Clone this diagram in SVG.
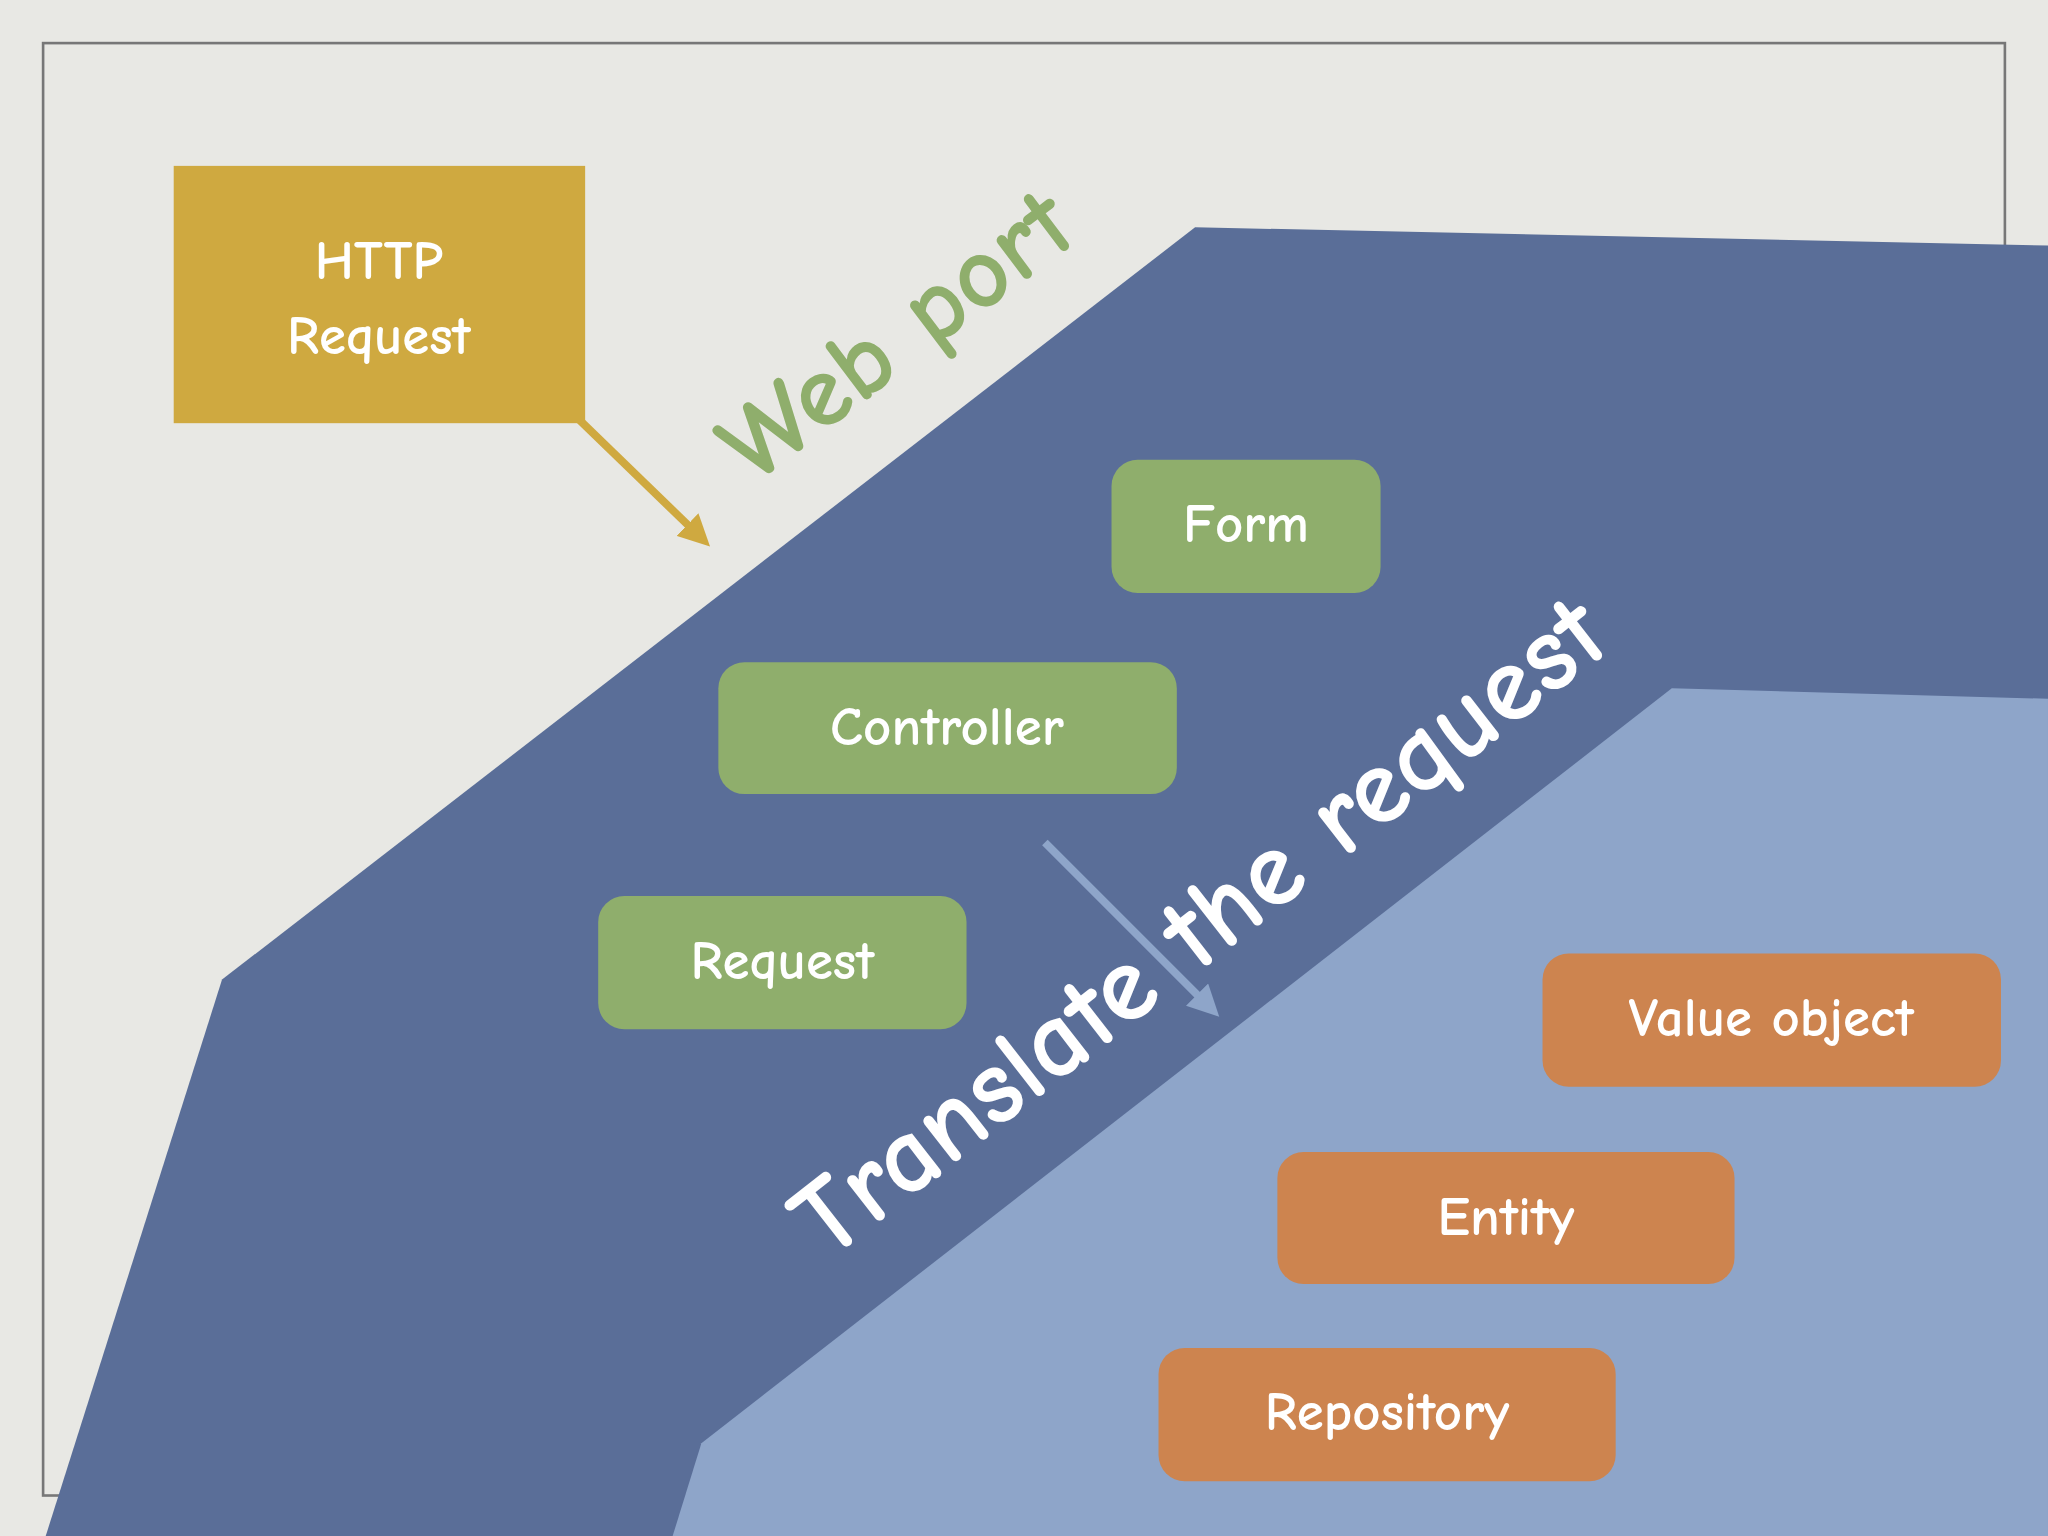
<svg xmlns="http://www.w3.org/2000/svg" width="2048" height="1536" viewBox="0 0 2048 1536">
<style>
.lbl{font-family:"Comic Neue","Noto Sans","DejaVu Sans",sans-serif;fill:#fff;font-size:42px;font-weight:bold;text-anchor:middle;dominant-baseline:middle}
.g{fill:#8fae6c}.o{fill:#cd844f}
</style>
<defs>
<marker id="ag" markerWidth="4" markerHeight="4" refX="2" refY="2" orient="auto"><path d="M0,0L4,2L0,4z" fill="#cfa940"/></marker>
<marker id="ab" markerWidth="4" markerHeight="4" refX="2" refY="2" orient="auto"><path d="M0,0L4,2L0,4z" fill="#8ea5c9"/></marker>
</defs>
<rect width="2048" height="1536" fill="#e8e8e4"/>
<g transform="scale(1.30612)">
<rect x="33" y="33" width="1502" height="1112" fill="none" stroke="#777" stroke-width="2"/>
<polygon points="915,174 1568,188 1568,1176 35,1176 170,750" fill="#5a6e98"/>
<polygon points="1280,527 1568,535 1568,1176 515,1176 537,1105" fill="#8ea5c9"/>
<text transform="translate(690,262) rotate(-37)" font-family="Comic Neue,Noto Sans,sans-serif" font-weight="bold" font-size="80" fill="#8fae6c" text-anchor="middle" dominant-baseline="middle">Web port</text>
<text transform="translate(922,715) rotate(-38)" font-family="Comic Neue,Noto Sans,sans-serif" font-weight="bold" font-size="84" fill="#fff" text-anchor="middle" dominant-baseline="middle">Translate the request</text>
<g id="connectors">
<line x1="440" y1="318" x2="535" y2="410" stroke="#cfa940" stroke-width="6" marker-end="url(#ag)"/>
<line x1="800" y1="645" x2="925" y2="770" stroke="#8ea5c9" stroke-width="6" marker-end="url(#ab)"/>
</g>
<g id="http"><rect x="133" y="127" width="315" height="197" fill="#cfa940"/><text class="lbl" x="290" y="203">HTTP</text><text class="lbl" x="290" y="261">Request</text></g>
<g id="form"><rect class="g" x="851" y="352" width="206" height="102" rx="20"/><text class="lbl" x="954" y="405">Form</text></g>
<g id="controller"><rect class="g" x="550" y="507" width="351" height="101" rx="20"/><text class="lbl" x="725" y="560">Controller</text></g>
<g id="request"><rect class="g" x="458" y="686" width="282" height="102" rx="20"/><text class="lbl" x="599" y="739">Request</text></g>
<g id="value"><rect class="o" x="1181" y="730" width="351" height="102" rx="20"/><text class="lbl" x="1356" y="783">Value object</text></g>
<g id="entity"><rect class="o" x="978" y="882" width="350" height="101" rx="20"/><text class="lbl" x="1153" y="935">Entity</text></g>
<g id="repo"><rect class="o" x="887" y="1032" width="350" height="102" rx="20"/><text class="lbl" x="1062" y="1085">Repository</text></g>
</g>
</svg>
